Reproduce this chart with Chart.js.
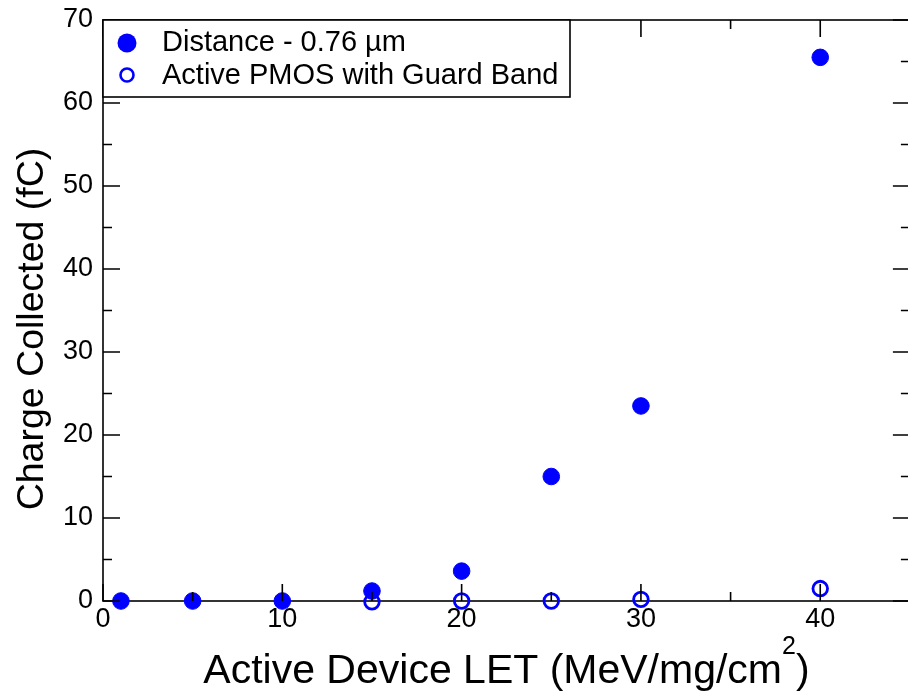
<!DOCTYPE html>
<html>
<head>
<meta charset="utf-8">
<script src="https://cdn.jsdelivr.net/npm/chart.js@4.4.0/dist/chart.umd.min.js"></script>
<style>
  html, body { margin: 0; padding: 0; background: #fff; overflow: hidden; }
  canvas { display: block; }
</style>
</head>
<body>
<canvas id="letChart" width="920" height="696"></canvas>
<script>
// LET values (MeV/mg/cm2) and collected charge (fC)
var letDistance = [1, 5, 10, 15, 20, 25, 30, 40];
var chargeDistance = [0, 0, 0, 1.2, 3.6, 15, 23.5, 65.5];
var letGuard = [15, 20, 25, 30, 40];
var chargeGuard = [-0.1, 0, 0, 0.2, 1.5];

var seriesLabels = ["Distance - 0.76 \u00b5m", "Active PMOS with Guard Band"];
var xTicks = [0, 10, 20, 30, 40];
var yTicks = [0, 10, 20, 30, 40, 50, 60, 70];

var FONT = '"Liberation Sans", Arial, Helvetica, sans-serif';
var BLUE = "#0000ff";

function toPoints(xs, ys) {
  return xs.map(function (x, i) { return { x: x, y: ys[i] }; });
}

// frame, inside ticks (major + minor on all four sides), legend box and axis titles
var framePlugin = {
  id: "frame",
  beforeDatasetsDraw: function (chart) {
    var a = chart.chartArea, c = chart.ctx;
    c.save();
    c.strokeStyle = "#000";
    c.lineWidth = 1.6;
    c.strokeRect(a.left, a.top, a.right - a.left, a.bottom - a.top);
    c.restore();
  },
  afterDatasetsDraw: function (chart) {
    var a = chart.chartArea, c = chart.ctx;
    var xs = chart.scales.x, ys = chart.scales.y;
    c.save();
    c.strokeStyle = "#000";
    c.lineWidth = 1.6;
    c.beginPath();
    for (var v = 0; v <= 45; v += 5) {
      var len = v % 10 === 0 ? 17 : 9;
      var px = xs.getPixelForValue(v);
      c.moveTo(px, a.bottom); c.lineTo(px, a.bottom - len);
      c.moveTo(px, a.top); c.lineTo(px, a.top + len);
    }
    for (var w = 0; w <= 70; w += 5) {
      var l2 = w % 10 === 0 ? 17 : 9;
      var py = ys.getPixelForValue(w);
      c.moveTo(a.left, py); c.lineTo(a.left + l2, py);
      c.moveTo(a.right, py); c.lineTo(a.right - l2, py);
    }
    c.stroke();

    // legend
    c.fillStyle = "#fff";
    c.fillRect(a.left, a.top, 467, 77);
    c.strokeRect(a.left, a.top, 467, 77);
    c.fillStyle = BLUE;
    c.beginPath(); c.arc(127, 43, 9.5, 0, Math.PI * 2); c.fill();
    c.strokeStyle = BLUE;
    c.lineWidth = 2.6;
    c.beginPath(); c.arc(127, 75, 6.5, 0, Math.PI * 2); c.stroke();
    c.fillStyle = "#000";
    c.font = "29px " + FONT;
    c.textBaseline = "middle";
    c.textAlign = "left";
    c.fillText(chart.data.datasets[0].label, 162, 43);
    c.fillText(chart.data.datasets[1].label, 162, 76);

    // x title with superscript
    c.textBaseline = "alphabetic";
    var main = "Active Device LET (MeV/mg/cm";
    var sup = "2";
    var tail = ")";
    c.font = "41px " + FONT;
    var wMain = c.measureText(main).width;
    var wTail = c.measureText(tail).width;
    c.font = "25px " + FONT;
    var wSup = c.measureText(sup).width;
    var x0 = (a.left + a.right) / 2 - (wMain + wSup + wTail) / 2;
    c.font = "41px " + FONT;
    c.fillText(main, x0, 683);
    c.fillText(tail, x0 + wMain + wSup, 683);
    c.font = "25px " + FONT;
    c.fillText(sup, x0 + wMain, 654);

    // y title
    c.font = "37.5px " + FONT;
    c.translate(43, 329);
    c.rotate(-Math.PI / 2);
    c.textAlign = "center";
    c.fillText("Charge Collected (fC)", 0, 0);
    c.restore();
  }
};

new Chart(document.getElementById("letChart").getContext("2d"), {
  type: "scatter",
  data: {
    datasets: [
      {
        label: seriesLabels[0],
        data: toPoints(letDistance, chargeDistance),
        backgroundColor: BLUE,
        borderColor: BLUE,
        borderWidth: 1,
        pointRadius: 8.3,
        clip: false
      },
      {
        label: seriesLabels[1],
        data: toPoints(letGuard, chargeGuard),
        backgroundColor: "rgba(0,0,0,0)",
        borderColor: BLUE,
        borderWidth: 2.8,
        pointRadius: 7.3,
        clip: false
      }
    ]
  },
  options: {
    responsive: false,
    animation: false,
    events: [],
    layout: { padding: { top: 20, right: 5, left: 0, bottom: 0 } },
    plugins: { legend: { display: false }, tooltip: { enabled: false } },
    scales: {
      x: {
        type: "linear",
        min: 0,
        max: 45,
        afterFit: function (s) {
          s.height = 95;
          s.paddingLeft = 0; s.paddingRight = 0;
        },
        afterBuildTicks: function (s) { s.ticks = xTicks.map(function (v) { return { value: v }; }); },
        grid: { display: false, drawTicks: false },
        border: { display: false },
        ticks: { color: "#000", font: { family: FONT, size: 27 }, padding: 2, maxRotation: 0 }
      },
      y: {
        type: "linear",
        min: 0,
        max: 70,
        afterFit: function (s) {
          s.width = 103;
          s.paddingTop = 0; s.paddingBottom = 0;
        },
        afterBuildTicks: function (s) { s.ticks = yTicks.map(function (v) { return { value: v }; }); },
        grid: { display: false, drawTicks: false },
        border: { display: false },
        ticks: { color: "#000", font: { family: FONT, size: 27 }, padding: 10 }
      }
    }
  },
  plugins: [framePlugin]
});
</script>
</body>
</html>
